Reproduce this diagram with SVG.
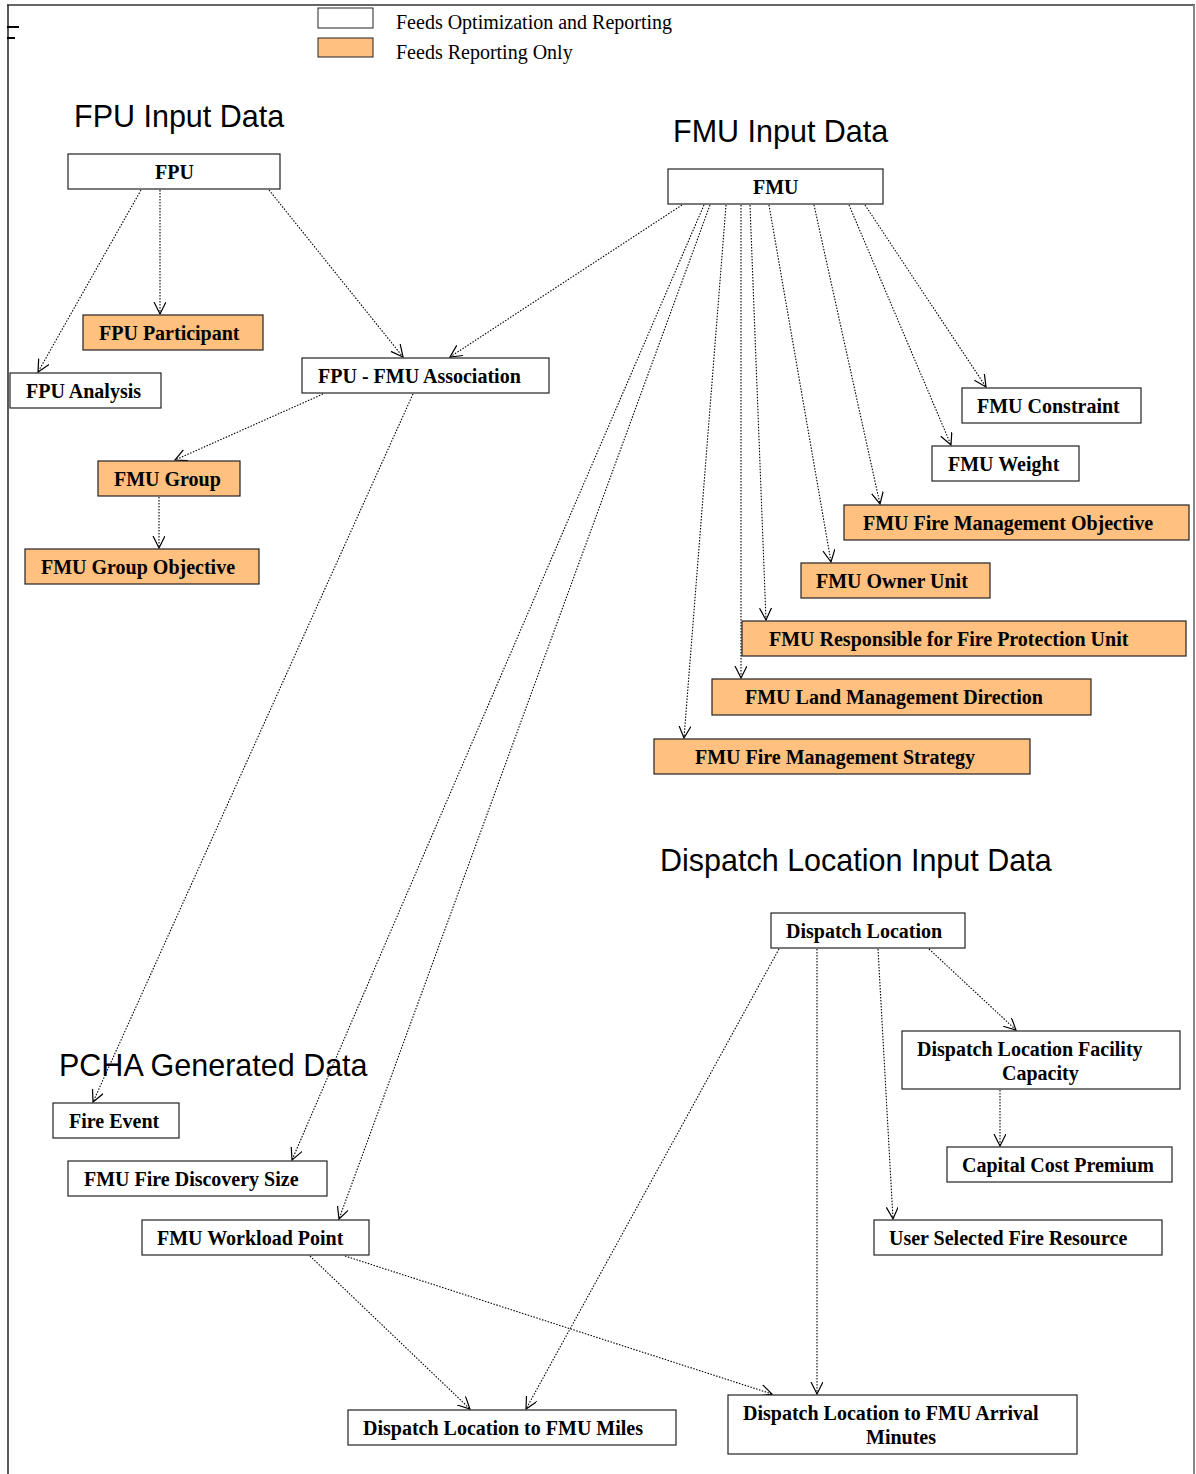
<svg xmlns="http://www.w3.org/2000/svg" width="1196" height="1474" viewBox="0 0 1196 1474">
<defs>
<style>
.n rect{stroke:#222;stroke-width:1.2}
.w{fill:#fff}
.o{fill:#ffc080}
.t{font-family:"Liberation Serif","Times New Roman",serif;font-weight:bold;font-size:20px;fill:#000}
.lg{font-family:"Liberation Serif","Times New Roman",serif;font-size:20px;fill:#000}
.h{font-family:"Liberation Sans",Arial,sans-serif;font-size:30.5px;fill:#000}
.c line{stroke:#000;stroke-width:1.1;stroke-dasharray:1.5,1.5;marker-end:url(#a)}
</style>
<marker id="a" markerUnits="userSpaceOnUse" markerWidth="14" markerHeight="14" refX="12" refY="6" orient="auto">
<path d="M0,0 L12,6 L0,12" fill="none" stroke="#000" stroke-width="1.2"/>
</marker>
</defs>
<rect width="1196" height="1474" fill="#fff"/>
<g id="frame">
<line x1="7" y1="5" x2="1195" y2="5" stroke="#333" stroke-width="1.5"/>
<line x1="8" y1="5" x2="8" y2="1474" stroke="#222" stroke-width="1.5"/>
<line x1="1194" y1="5" x2="1194" y2="1474" stroke="#888" stroke-width="2"/>
<line x1="7" y1="27" x2="19" y2="27" stroke="#000" stroke-width="2"/>
<line x1="7" y1="38" x2="15" y2="38" stroke="#000" stroke-width="2"/>
</g>
<g id="legend">
<rect x="318" y="8" width="55" height="20" fill="#fff" stroke="#222"/>
<rect x="318" y="38" width="55" height="19" fill="#ffc080" stroke="#222"/>
<text class="lg" x="396" y="29">Feeds Optimization and Reporting</text>
<text class="lg" x="396" y="59">Feeds Reporting Only</text>
</g>
<g id="titles">
<text class="h" x="74" y="127">FPU Input Data</text>
<text class="h" x="673" y="142">FMU Input Data</text>
<text class="h" x="660" y="871">Dispatch Location Input Data</text>
<text class="h" x="59" y="1076">PCHA Generated Data</text>
</g>
<g id="connectors" class="c">
<line x1="141" y1="190" x2="38" y2="372"/>
<line x1="160" y1="190" x2="160" y2="314"/>
<line x1="269" y1="190" x2="403" y2="357"/>
<line x1="682" y1="205" x2="450" y2="357"/>
<line x1="323" y1="394" x2="175" y2="460"/>
<line x1="159" y1="497" x2="159" y2="548"/>
<line x1="413" y1="394" x2="93" y2="1102"/>
<line x1="704" y1="205" x2="292" y2="1160"/>
<line x1="710" y1="205" x2="339" y2="1219"/>
<line x1="726" y1="205" x2="684" y2="738"/>
<line x1="741" y1="205" x2="741" y2="678"/>
<line x1="750" y1="205" x2="766" y2="620"/>
<line x1="769" y1="205" x2="831" y2="562"/>
<line x1="814" y1="205" x2="880" y2="504"/>
<line x1="849" y1="205" x2="951" y2="445"/>
<line x1="865" y1="205" x2="986" y2="387"/>
<line x1="310" y1="1256" x2="470" y2="1409"/>
<line x1="345" y1="1256" x2="772" y2="1394"/>
<line x1="779" y1="949" x2="526" y2="1409"/>
<line x1="817" y1="949" x2="817" y2="1394"/>
<line x1="878" y1="949" x2="893" y2="1219"/>
<line x1="929" y1="949" x2="1016" y2="1030"/>
<line x1="1000" y1="1090" x2="1000" y2="1146"/>
</g>
<g id="fpu" class="n"><rect class="w" x="68" y="154" width="212" height="35"/><text class="t" x="155" y="179">FPU</text></g>
<g id="fpu-participant" class="n"><rect class="o" x="83" y="315" width="180" height="35"/><text class="t" x="99" y="340">FPU Participant</text></g>
<g id="fpu-analysis" class="n"><rect class="w" x="10" y="373" width="151" height="35"/><text class="t" x="26" y="398">FPU Analysis</text></g>
<g id="fpu-fmu-association" class="n"><rect class="w" x="302" y="358" width="247" height="35"/><text class="t" x="318" y="383">FPU - FMU Association</text></g>
<g id="fmu-group" class="n"><rect class="o" x="98" y="461" width="142" height="35"/><text class="t" x="114" y="486">FMU Group</text></g>
<g id="fmu-group-objective" class="n"><rect class="o" x="25" y="549" width="234" height="35"/><text class="t" x="41" y="574">FMU Group Objective</text></g>
<g id="fmu" class="n"><rect class="w" x="668" y="169" width="215" height="35"/><text class="t" x="753" y="194">FMU</text></g>
<g id="fmu-constraint" class="n"><rect class="w" x="962" y="388" width="179" height="35"/><text class="t" x="977" y="413">FMU Constraint</text></g>
<g id="fmu-weight" class="n"><rect class="w" x="932" y="446" width="147" height="35"/><text class="t" x="948" y="471">FMU Weight</text></g>
<g id="fmu-fire-mgmt-objective" class="n"><rect class="o" x="844" y="505" width="345" height="35"/><text class="t" x="863" y="530">FMU Fire Management Objective</text></g>
<g id="fmu-owner-unit" class="n"><rect class="o" x="801" y="563" width="189" height="35"/><text class="t" x="816" y="588">FMU Owner Unit</text></g>
<g id="fmu-responsible" class="n"><rect class="o" x="742" y="621" width="444" height="35"/><text class="t" x="769" y="646">FMU Responsible for Fire Protection Unit</text></g>
<g id="fmu-land-mgmt" class="n"><rect class="o" x="712" y="679" width="379" height="36"/><text class="t" x="745" y="704">FMU Land Management Direction</text></g>
<g id="fmu-fire-mgmt-strategy" class="n"><rect class="o" x="654" y="739" width="376" height="35"/><text class="t" x="695" y="764">FMU Fire Management Strategy</text></g>
<g id="dispatch-location" class="n"><rect class="w" x="771" y="913" width="194" height="35"/><text class="t" x="786" y="938">Dispatch Location</text></g>
<g id="dispatch-facility-capacity" class="n"><rect class="w" x="902" y="1031" width="278" height="58"/><text class="t" x="917" y="1056">Dispatch Location Facility</text><text class="t" x="1002" y="1080">Capacity</text></g>
<g id="capital-cost-premium" class="n"><rect class="w" x="947" y="1147" width="225" height="35"/><text class="t" x="962" y="1172">Capital Cost Premium</text></g>
<g id="user-selected-fire-resource" class="n"><rect class="w" x="874" y="1220" width="288" height="35"/><text class="t" x="889" y="1245">User Selected Fire Resource</text></g>
<g id="fire-event" class="n"><rect class="w" x="53" y="1103" width="126" height="35"/><text class="t" x="69" y="1128">Fire Event</text></g>
<g id="fmu-fire-discovery-size" class="n"><rect class="w" x="68" y="1161" width="259" height="35"/><text class="t" x="84" y="1186">FMU Fire Discovery Size</text></g>
<g id="fmu-workload-point" class="n"><rect class="w" x="142" y="1220" width="227" height="35"/><text class="t" x="157" y="1245">FMU Workload Point</text></g>
<g id="dispatch-to-fmu-miles" class="n"><rect class="w" x="348" y="1410" width="328" height="35"/><text class="t" x="363" y="1435">Dispatch Location to FMU Miles</text></g>
<g id="dispatch-to-fmu-arrival" class="n"><rect class="w" x="728" y="1395" width="349" height="59"/><text class="t" x="743" y="1420">Dispatch Location to FMU Arrival</text><text class="t" x="866" y="1444">Minutes</text></g>
</svg>
